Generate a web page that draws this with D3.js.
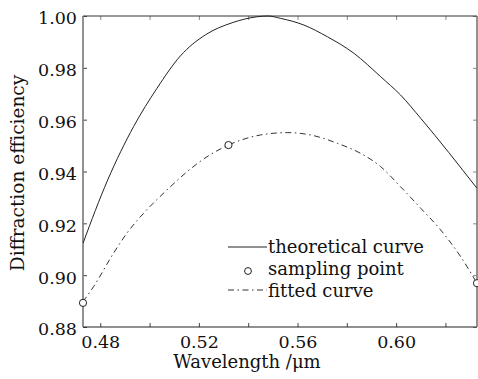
<!DOCTYPE html>
<html>
<head>
<meta charset="utf-8">
<script src="https://cdn.jsdelivr.net/npm/d3@7"></script>
<style>
  html, body { margin: 0; padding: 0; background: #fff; }
  svg { display: block; }
</style>
</head>
<body>
<div id="chart"></div>
<script>
// values
const theoWavelength = [0.473, 0.483, 0.4935, 0.503, 0.5125, 0.5226, 0.5335, 0.5436, 0.548, 0.5531, 0.5626, 0.5721, 0.5829, 0.5937, 0.6018, 0.61, 0.6328];
const theoEfficiency = [0.9123, 0.9367, 0.9573, 0.9721, 0.9846, 0.9927, 0.9974, 0.9997, 1.0, 0.9991, 0.9965, 0.992, 0.9856, 0.9766, 0.9695, 0.9605, 0.9335];

const fitWavelength = [0.473, 0.4773, 0.4854, 0.4908, 0.4976, 0.5071, 0.5152, 0.5233, 0.532, 0.545, 0.5558, 0.5653, 0.5761, 0.5856, 0.5937, 0.6018, 0.61, 0.6181, 0.6262, 0.6328];
const fitEfficiency = [0.8898, 0.8956, 0.9085, 0.9162, 0.9239, 0.9329, 0.9399, 0.9457, 0.9502, 0.9541, 0.955, 0.9541, 0.9509, 0.947, 0.9419, 0.9341, 0.9258, 0.9174, 0.9071, 0.8969];

const sampleWavelength = [0.473, 0.532, 0.6328];
const sampleEfficiency = [0.8893, 0.9502, 0.8969];

const xTicks = [0.48, 0.50, 0.52, 0.54, 0.56, 0.58, 0.60, 0.62];
const xTickLabels = [0.48, 0.52, 0.56, 0.60];
const yTicks = [0.88, 0.90, 0.92, 0.94, 0.96, 0.98, 1.00];
const legendLabels = ["theoretical curve", "sampling point", "fitted curve"];

const W = 478, H = 379;
const margin = { top: 16, right: 1, bottom: 52, left: 83 };
const font = "'DejaVu Serif', 'Liberation Serif', serif";

const svg = d3.select("#chart").append("svg")
  .attr("width", W)
  .attr("height", H)
  .style("font-family", font);

const x = d3.scaleLinear()
  .domain([0.473, 0.6328])
  .range([margin.left, W - margin.right]);
const y = d3.scaleLinear()
  .domain([0.88, 1.0])
  .range([H - margin.bottom, margin.top]);

svg.append("clipPath").attr("id", "clip")
  .append("rect")
  .attr("x", margin.left).attr("y", margin.top - 1)
  .attr("width", W - margin.right - margin.left).attr("height", H - margin.bottom - margin.top + 2);

// axes, ticks pointing inwards, on all four sides
const fmt = d3.format(".2f");
svg.append("g")
  .attr("transform", `translate(0,${y(0.88)})`)
  .call(d3.axisBottom(x).tickValues(xTicks).tickSizeInner(-4).tickSizeOuter(0)
    .tickFormat(d => xTickLabels.some(v => Math.abs(v - d) < 1e-9) ? fmt(d) : ""))
  .call(g => g.select(".domain").remove())
  .call(g => g.selectAll("line").attr("stroke", "#444"))
  .call(g => g.selectAll("text").attr("font-family", font).attr("font-size", 17.5).attr("fill", "#111").attr("dy", "0.95em").attr("y", 4));

svg.append("g")
  .attr("transform", `translate(0,${y(1.0)})`)
  .call(d3.axisTop(x).tickValues(xTicks).tickSizeInner(-4).tickSizeOuter(0).tickFormat(""))
  .call(g => g.select(".domain").remove())
  .call(g => g.selectAll("line").attr("stroke", "#888"));

svg.append("g")
  .attr("transform", `translate(${x(0.473)},0)`)
  .call(d3.axisLeft(y).tickValues(yTicks).tickSizeInner(-4).tickSizeOuter(0).tickFormat(fmt))
  .call(g => g.select(".domain").remove())
  .call(g => g.selectAll("line").attr("stroke", "#444"))
  .call(g => g.selectAll("text").attr("font-family", font).attr("font-size", 17.5).attr("fill", "#111").attr("x", -6).attr("dy", "0.45em"));

svg.append("g")
  .attr("transform", `translate(${x(0.6328)},0)`)
  .call(d3.axisRight(y).tickValues(yTicks).tickSizeInner(-4).tickSizeOuter(0).tickFormat(""))
  .call(g => g.select(".domain").remove())
  .call(g => g.selectAll("line").attr("stroke", "#888"));

// frame
svg.append("line").attr("x1", x(0.473)).attr("x2", x(0.6328)).attr("y1", y(1.0)).attr("y2", y(1.0)).attr("stroke", "#333").attr("stroke-width", 1);
svg.append("line").attr("x1", x(0.473)).attr("x2", x(0.6328)).attr("y1", y(0.88)).attr("y2", y(0.88)).attr("stroke", "#222").attr("stroke-width", 1.2);
svg.append("line").attr("x1", x(0.473)).attr("x2", x(0.473)).attr("y1", y(1.0)).attr("y2", y(0.88)).attr("stroke", "#777").attr("stroke-width", 1.6);
svg.append("line").attr("x1", x(0.6328)).attr("x2", x(0.6328)).attr("y1", y(1.0)).attr("y2", y(0.88)).attr("stroke", "#777").attr("stroke-width", 1.6);

// curves
const line = d3.line().x(d => x(d[0])).y(d => y(d[1])).curve(d3.curveMonotoneX);
const plot = svg.append("g").attr("clip-path", "url(#clip)");

plot.append("path")
  .datum(d3.zip(theoWavelength, theoEfficiency))
  .attr("d", line)
  .attr("fill", "none")
  .attr("stroke", "#222")
  .attr("stroke-width", 1);

plot.append("path")
  .datum(d3.zip(fitWavelength, fitEfficiency))
  .attr("d", line)
  .attr("fill", "none")
  .attr("stroke", "#333")
  .attr("stroke-width", 1)
  .attr("stroke-dasharray", "6,3.5,1.5,3.5");

svg.selectAll("circle.sample")
  .data(d3.zip(sampleWavelength, sampleEfficiency))
  .enter().append("circle")
  .attr("class", "sample")
  .attr("cx", d => x(d[0]))
  .attr("cy", d => y(d[1]))
  .attr("r", 3.6)
  .attr("fill", "#fff")
  .attr("stroke", "#222")
  .attr("stroke-width", 1);

// legend
const lg = svg.append("g").attr("transform", "translate(228,247)");
lg.append("line").attr("x1", 0).attr("x2", 39).attr("y1", 0).attr("y2", 0).attr("stroke", "#222");
lg.append("circle").attr("cx", 20).attr("cy", 24).attr("r", 3.4).attr("fill", "#fff").attr("stroke", "#222");
lg.append("line").attr("x1", 0).attr("x2", 39).attr("y1", 43).attr("y2", 43).attr("stroke", "#333").attr("stroke-dasharray", "6,3.5,1.5,3.5");
lg.selectAll("text")
  .data(legendLabels)
  .enter().append("text")
  .attr("x", 40)
  .attr("y", (d, i) => 6 + i * 22)
  .attr("font-size", 18)
  .attr("fill", "#111")
  .text(d => d);

// axis titles
svg.append("text")
  .attr("x", 247)
  .attr("y", 368)
  .attr("text-anchor", "middle")
  .attr("font-size", 18)
  .attr("fill", "#111")
  .text("Wavelength /μm");

svg.append("text")
  .attr("transform", "translate(24,173)rotate(-90)")
  .attr("text-anchor", "middle")
  .attr("font-size", 18.5)
  .attr("fill", "#111")
  .text("Diffraction efficiency");
</script>
</body>
</html>
